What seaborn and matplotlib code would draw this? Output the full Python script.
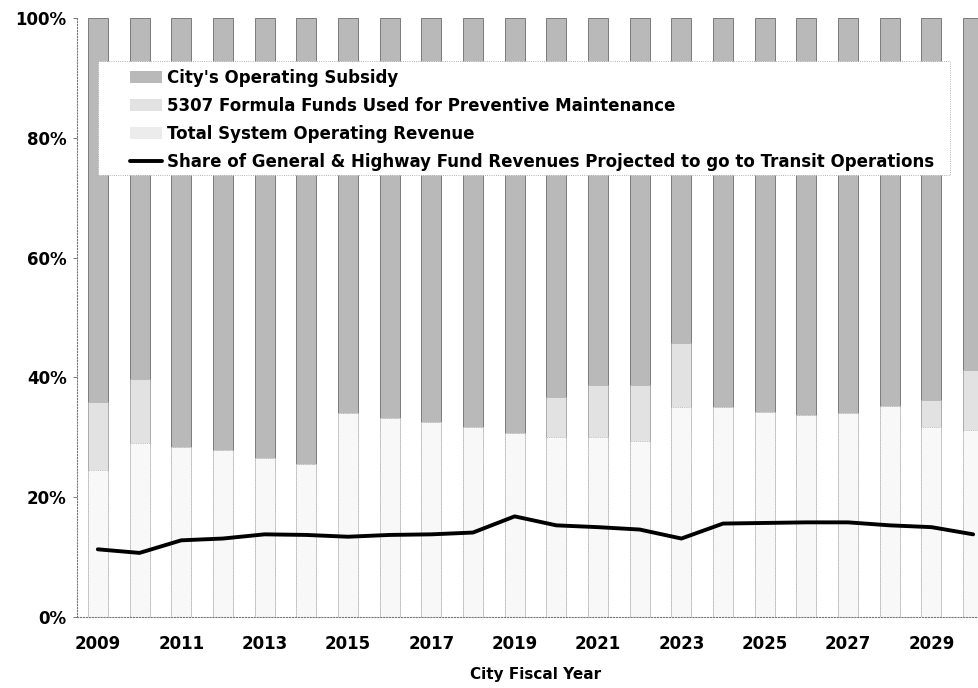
import numpy as np
import pandas as pd
import seaborn as sns
import matplotlib.pyplot as plt
from matplotlib.patches import Patch, Rectangle
from matplotlib.lines import Line2D

# values (percent of operating budget)
years = [str(y) for y in range(2009, 2031)]
operating_revenue = [24.5, 29.0, 28.4, 27.9, 26.5, 25.6, 34.0, 33.2, 32.6, 31.8, 30.8,
                     30.0, 30.0, 29.3, 35.1, 35.1, 34.2, 33.7, 34.0, 35.3, 31.7, 31.2]
formula_5307 = [11.4, 10.8, 0, 0, 0, 0, 0, 0, 0, 0, 0,
                6.8, 8.7, 9.4, 10.6, 0, 0, 0, 0, 0, 4.5, 10.0]
highway_share = [11.3, 10.7, 12.8, 13.1, 13.8, 13.7, 13.4, 13.7, 13.8, 14.1, 16.8,
                 15.3, 15.0, 14.6, 13.1, 15.6, 15.7, 15.8, 15.8, 15.3, 15.0, 13.8]

labels = ["City's Operating Subsidy",
          "5307 Formula Funds Used for Preventive Maintenance",
          "Total System Operating Revenue",
          "Share of General & Highway Fund Revenues Projected to go to Transit Operations"]

df = pd.DataFrame({"year": years, "revenue": operating_revenue, "fta": formula_5307,
                   "share": highway_share})
df["rev_fta"] = df["revenue"] + df["fta"]
df["total"] = df["rev_fta"] + (100 - df["rev_fta"])   # city subsidy fills to 100%

city_col = "#b9b9b9"
fta_col = "#e2e2e2"
rev_col = "#f8f8f8"

sns.set_style("white")
plt.rcParams["font.family"] = ["DejaVu Sans"]
plt.rcParams["font.weight"] = "bold"
plt.rcParams["text.color"] = "black"
plt.rcParams["xtick.color"] = "black"
plt.rcParams["ytick.color"] = "black"
plt.rcParams["axes.labelcolor"] = "black"

fig = plt.figure(figsize=(9.79, 6.88), dpi=100)
ax = fig.add_axes([77 / 979, 1 - 617 / 688, 917 / 979, 599 / 688])

# stacked bars drawn as overlapping cumulative layers
sns.barplot(data=df, x="year", y="total", color=city_col, width=0.48, saturation=1,
            edgecolor="#555555", linewidth=0.5, ax=ax)
sns.barplot(data=df, x="year", y="rev_fta", color=fta_col, width=0.48, saturation=1,
            edgecolor="#aaaaaa", linewidth=0.4, ax=ax)
sns.barplot(data=df, x="year", y="revenue", color=rev_col, width=0.48, saturation=1,
            edgecolor="#b0b0b0", linewidth=0.6, linestyle=":", ax=ax)
sns.lineplot(data=df, x="year", y="share", color="black", linewidth=2.8, sort=False,
             ax=ax, zorder=5)

ax.set_xlim(-0.5, 21.5)
ax.set_ylim(0, 100)
ax.set_yticks(range(0, 101, 20))
ax.set_yticklabels([f"{v}%" for v in range(0, 101, 20)], fontsize=12, fontweight="bold")
ax.set_xticks(range(0, len(years), 2))
ax.set_xticklabels(years[::2], fontsize=12, fontweight="bold")
ax.tick_params(axis="y", length=3, width=0.6, color="#666666", labelcolor="black",
               pad=4.5, left=True)
ax.tick_params(axis="x", length=0, pad=13, labelcolor="black")
ax.set_xlabel("City Fiscal Year", fontsize=11, fontweight="bold", labelpad=10,
              color="black")
ax.set_ylabel("")

for side in ["top", "right"]:
    ax.spines[side].set_visible(False)
for side in ["left", "bottom"]:
    ax.spines[side].set_color("#777777")
    ax.spines[side].set_linewidth(0.8)
    ax.spines[side].set_linestyle(":")

# white legend box laid over the bars
box = Rectangle((0.023, 0.738), 0.929, 0.19, transform=ax.transAxes, facecolor="white",
                edgecolor="#999999", linewidth=0.6, linestyle=":", zorder=6)
ax.add_patch(box)

handles = [Patch(facecolor=city_col, edgecolor="none"),
           Patch(facecolor=fta_col, edgecolor="none"),
           Patch(facecolor="#ececec", edgecolor="none"),
           Line2D([0], [0], color="black", linewidth=2.8)]
leg = ax.legend(handles, labels, loc="upper left", bbox_to_anchor=(0.058, 0.915),
                frameon=False, borderpad=0, borderaxespad=0, handlelength=1.9,
                handleheight=0.8, handletextpad=0.3, labelspacing=0.6,
                prop={"size": 12, "weight": "bold"})
for t in leg.get_texts():
    t.set_color("black")
leg.set_zorder(7)

fig.savefig("out.png", dpi=100)
